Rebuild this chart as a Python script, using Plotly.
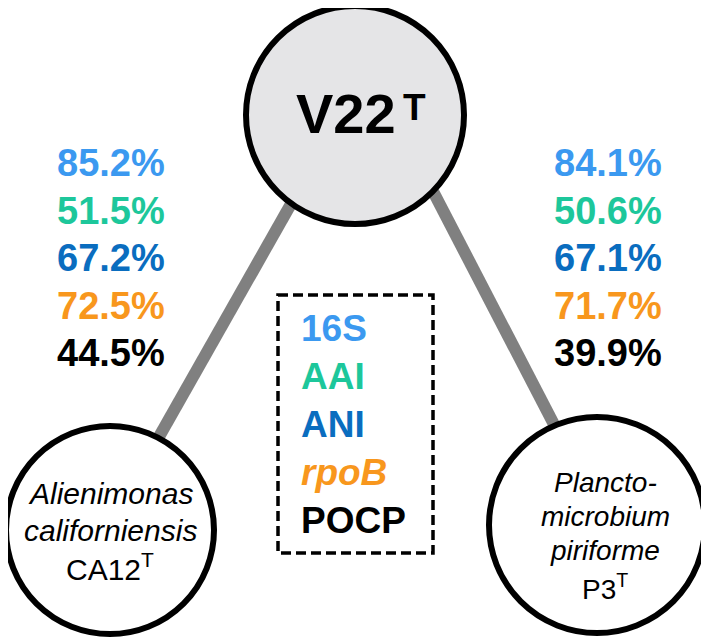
import plotly.graph_objects as go

# the page body keeps its default 8px margin, so the figure is drawn
# 8px smaller and the axes start at 8: data units == page pixels
PAD = 8
W, H = 709, 641

# similarity values, V22T vs each reference strain
metrics = ["16S", "AAI", "ANI", "<i>rpoB</i>", "POCP"]
metric_colors = ["#3b99f0", "#1dc79b", "#0a6dbf", "#f8971d", "#000000"]
left_values = ["85.2%", "51.5%", "67.2%", "72.5%", "44.5%"]
right_values = ["84.1%", "50.6%", "67.1%", "71.7%", "39.9%"]

center_name, center_sup = "V22", "T"
left_label = ["<i>Alienimonas</i>", "<i>californiensis</i>", "CA12<sup>T</sup>"]
right_label = ["<i>Plancto-</i>", "<i>microbium</i>", "<i>piriforme</i>", "P3<sup>T</sup>"]

FONT = "Liberation Sans, Arial, sans-serif"

fig = go.Figure()
fig.add_trace(go.Scatter(x=[PAD, W], y=[PAD, H], mode="markers", marker=dict(opacity=0),
                         hoverinfo="skip", showlegend=False))


def circle(cx, cy, r, fill):
    fig.add_shape(type="circle", x0=cx - r, x1=cx + r, y0=cy - r, y1=cy + r,
                  line=dict(color="black", width=6), fillcolor=fill)


# connector lines go under the circles
gray = dict(color="#808080", width=12)
fig.add_shape(type="line", x0=304, y0=181, x1=130, y1=488, line=gray)
fig.add_shape(type="line", x0=423, y0=172, x1=588, y1=490, line=gray)

circle(355, 115, 109, "#e5e5e7")
circle(110, 530, 104, "white")
circle(597, 525, 108, "white")

fig.add_shape(type="rect", x0=278, x1=433, y0=295, y1=553,
              line=dict(color="black", width=3.5, dash="10px,5px"))

ann = []
ann.append(dict(x=346, y=113, text=f"<b>{center_name}</b>", font=dict(size=56, color="black"),
                xanchor="center", yanchor="middle"))
# superscript T set by hand so it sits level with the cap line
ann.append(dict(x=401, y=107, text=f"<b>{center_sup}</b>", font=dict(size=37, color="black"),
                xanchor="left", yanchor="middle"))

row_y = [163, 211, 258, 306, 353]
for i in range(5):
    style = dict(size=38, color=metric_colors[i])
    ann.append(dict(x=111, y=row_y[i], text=f"<b>{left_values[i]}</b>", font=style,
                    xanchor="center", yanchor="middle"))
    ann.append(dict(x=608, y=row_y[i], text=f"<b>{right_values[i]}</b>", font=style,
                    xanchor="center", yanchor="middle"))

legend_y = [328, 376, 424, 472, 520]
for i in range(5):
    ann.append(dict(x=299, y=legend_y[i], text=f"<b>{metrics[i]}</b>",
                    font=dict(size=37, color=metric_colors[i]),
                    xanchor="left", yanchor="middle"))

for t, y in zip(left_label, [493, 530, 567]):
    ann.append(dict(x=110, y=y, text=t, font=dict(size=30, color="black"),
                    xanchor="center", yanchor="middle"))
for t, y in zip(right_label, [482, 516, 550, 587]):
    ann.append(dict(x=605, y=y, text=t, font=dict(size=28, color="black"),
                    xanchor="center", yanchor="middle"))

for a in ann:
    a.update(xref="x", yref="y", showarrow=False)

fig.update_layout(
    width=W - PAD, height=H - PAD,
    margin=dict(l=0, r=0, t=0, b=0),
    paper_bgcolor="white", plot_bgcolor="white",
    font=dict(family=FONT),
    annotations=ann,
    showlegend=False,
)
fig.update_xaxes(range=[PAD, W], visible=False, fixedrange=True)
fig.update_yaxes(range=[H, PAD], visible=False, fixedrange=True)

fig.write_html("out.html", config={"displayModeBar": False})
